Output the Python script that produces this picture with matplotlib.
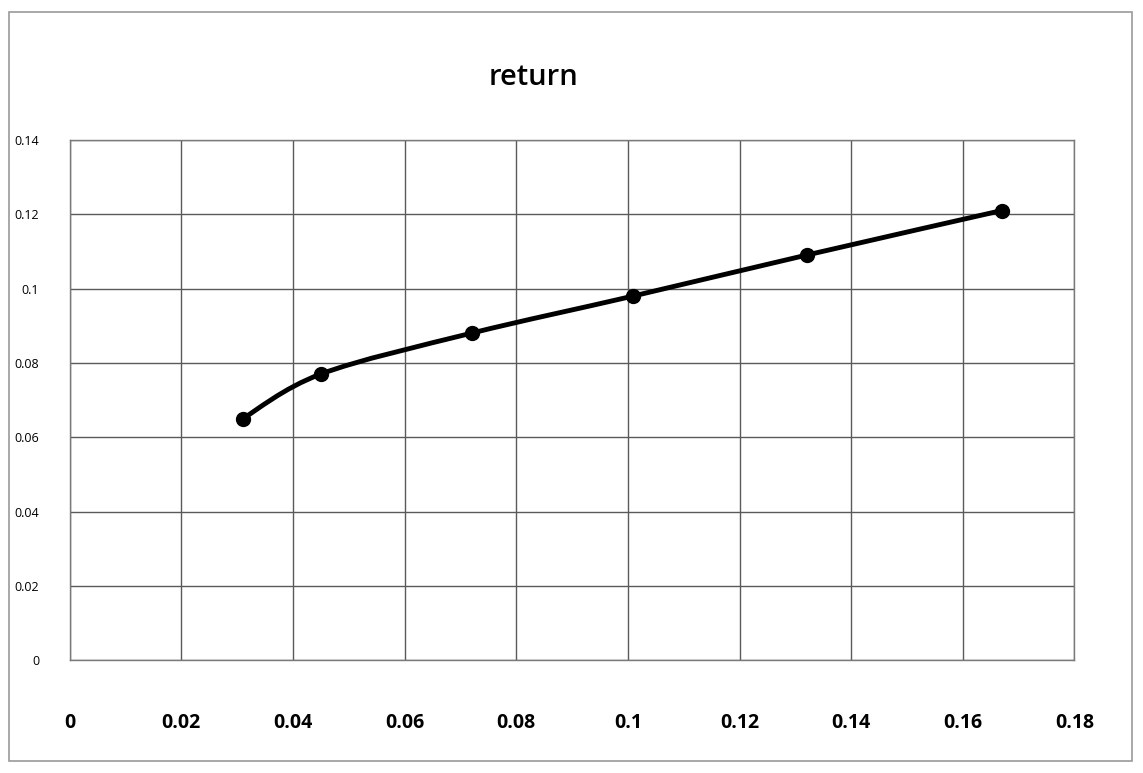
import numpy as np
import matplotlib.pyplot as plt
from matplotlib.path import Path
from matplotlib.patches import PathPatch, Rectangle

# risk (x) vs return (y) of the portfolios
risk = [0.031, 0.045, 0.072, 0.101, 0.132, 0.167]
ret = [0.065, 0.077, 0.088, 0.098, 0.109, 0.121]
xticks = [0, 0.02, 0.04, 0.06, 0.08, 0.1, 0.12, 0.14, 0.16, 0.18]
yticks = [0, 0.02, 0.04, 0.06, 0.08, 0.1, 0.12, 0.14]
title = 'return'

plt.rcParams['font.family'] = ['Open Sans', 'DejaVu Sans']


def smooth_path(x, y, t=1/6.):
    # cubic bezier through the points, spreadsheet style smoothing
    pts = np.c_[x, y]
    verts = [pts[0]]
    codes = [Path.MOVETO]
    n = len(pts)
    for i in range(n-1):
        p0 = pts[i-1] if i > 0 else pts[i]
        p1 = pts[i]
        p2 = pts[i+1]
        p3 = pts[i+2] if i+2 < n else pts[i+1]
        c1 = p1 + (p2 - p0)*t
        c2 = p2 - (p3 - p1)*t
        verts += [c1, c2, p2]
        codes += [Path.CURVE4]*3
    return Path(verts, codes)


fig = plt.figure(figsize=(11.43, 7.73), dpi=100)
fig.patch.set_facecolor('white')
fig.patches.append(Rectangle((0.008, 0.015), 0.982, 0.97, transform=fig.transFigure,
                             fill=False, edgecolor='#9a9a9a', lw=1.2))

ax = fig.add_axes([0.061, 0.146, 0.879, 0.673])
ax.set_xlim(0, 0.18)
ax.set_ylim(0, 0.14)
ax.set_xticks(xticks)
ax.set_yticks(yticks)
ax.set_xticklabels([f'{v:g}' for v in xticks], fontsize=14, fontweight='bold')
ax.set_yticklabels([f'{v:g}' for v in yticks], fontsize=9)
ax.tick_params(axis='x', length=0, pad=38)
ax.tick_params(axis='y', length=0, pad=22)
ax.grid(True, color='#5a5a5a', lw=1.0)
ax.set_axisbelow(True)
for s in ax.spines.values():
    s.set_color('#7a7a7a')
    s.set_linewidth(1.0)

ax.add_patch(PathPatch(smooth_path(risk, ret), facecolor='none', edgecolor='black', lw=3.5,
                       capstyle='round', zorder=3))
ax.plot(risk, ret, 'o', color='black', ms=10, zorder=4)

fig.text(0.467, 0.9, title, ha='center', va='center', fontsize=21, fontweight='semibold')

fig.savefig('out.png', dpi=100)
